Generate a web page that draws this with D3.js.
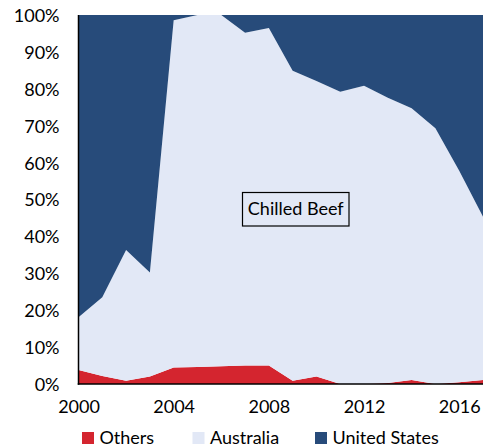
<!DOCTYPE html>
<html>
<head>
<meta charset="utf-8">
<script src="https://cdn.jsdelivr.net/npm/d3@7"></script>
<style>
  html, body { margin: 0; padding: 0; background: #fff; }
  svg text { font-family: Lato, "Open Sans", sans-serif; fill: #000; }
</style>
</head>
<body>
<svg id="chart" width="487" height="448"></svg>
<script>
// Import shares of chilled beef by origin (percent of total)
const years = [2000, 2001, 2002, 2003, 2004, 2005, 2006, 2007, 2008,
               2009, 2010, 2011, 2012, 2013, 2014, 2015, 2016, 2017];
const others       = [3.8, 2.2, 0.9, 2.0, 4.5, 4.6, 4.8, 5.0, 5.0,
                      0.9, 2.0, 0.0, 0.0, 0.3, 1.1, 0.0, 0.5, 1.1];
const australia    = [14.3, 21.3, 35.4, 28.2, 94.1, 95.4, 95.2, 90.2, 91.5,
                      84.0, 80.1, 79.2, 80.8, 77.3, 73.6, 69.3, 57.3, 44.2];
const unitedStates = [81.9, 76.5, 63.7, 69.8, 1.4, 0.0, 0.0, 4.8, 3.5,
                      15.1, 17.9, 20.8, 19.2, 22.4, 25.3, 30.7, 42.2, 54.7];

const seriesNames  = ["Others", "Australia", "United States"];
const seriesColors = ["#d4252f", "#e2e8f6", "#274b7a"];
const xTicks = [2000, 2004, 2008, 2012, 2016];
const yTicks = [0, 10, 20, 30, 40, 50, 60, 70, 80, 90, 100];
const panelTitle = "Chilled Beef";

const rows = years.map((y, i) => ({
  year: y,
  "Others": others[i],
  "Australia": australia[i],
  "United States": unitedStates[i]
}));

const margin = { left: 78.5, right: 4, top: 15, bottom: 64 };
const svg = d3.select("#chart");
const W = +svg.attr("width"), H = +svg.attr("height");
const fontSize = "18px";

const x = d3.scaleLinear()
  .domain([2000, 2017])
  .range([margin.left, W - margin.right]);
const y = d3.scaleLinear()
  .domain([0, 100])
  .range([H - margin.bottom, margin.top]);

const stack = d3.stack()
  .keys(seriesNames)
  .offset(d3.stackOffsetExpand);
const layers = stack(rows);

const area = d3.area()
  .x(d => x(d.data.year))
  .y0(d => y(d[0] * 100))
  .y1(d => y(d[1] * 100));

svg.append("g")
  .selectAll("path")
  .data(layers)
  .join("path")
  .attr("d", area)
  .attr("fill", (d, i) => seriesColors[i]);

// Y axis labels
const yAxis = d3.axisLeft(y)
  .tickValues(yTicks)
  .tickFormat(d => d + "%")
  .tickSize(0)
  .tickPadding(19);
const gy = svg.append("g")
  .attr("transform", `translate(${margin.left},0)`)
  .call(yAxis);
gy.select(".domain").remove();
gy.selectAll("text")
  .style("font-size", fontSize)
  .attr("dy", "0.36em");

// X axis labels
const xAxis = d3.axisBottom(x)
  .tickValues(xTicks)
  .tickFormat(d3.format("d"))
  .tickSize(0)
  .tickPadding(16);
const gx = svg.append("g")
  .attr("transform", `translate(0,${H - margin.bottom})`)
  .call(xAxis);
gx.select(".domain").remove();
gx.selectAll("text").style("font-size", fontSize);

// Axis lines
svg.append("line")
  .attr("x1", margin.left).attr("x2", margin.left)
  .attr("y1", margin.top).attr("y2", H - margin.bottom + 0.75)
  .attr("stroke", "#000").attr("stroke-width", 1.5);
svg.append("line")
  .attr("x1", margin.left - 0.75).attr("x2", W - margin.right)
  .attr("y1", H - margin.bottom).attr("y2", H - margin.bottom)
  .attr("stroke", "#000").attr("stroke-width", 1.5);

// Panel title box
const box = { x: 242.5, y: 192.5, w: 106.5, h: 33.5 };
const titleG = svg.append("g");
titleG.append("rect")
  .attr("x", box.x).attr("y", box.y)
  .attr("width", box.w).attr("height", box.h)
  .attr("fill", "none")
  .attr("stroke", "#000")
  .attr("stroke-width", 1.2);
titleG.append("text")
  .attr("x", box.x + box.w / 2)
  .attr("y", box.y + box.h / 2 + 1)
  .attr("text-anchor", "middle")
  .attr("dominant-baseline", "middle")
  .style("font-size", fontSize)
  .text(panelTitle);

// Legend
const legendX = [82, 192.5, 315];
const legend = svg.append("g");
seriesNames.forEach((name, i) => {
  legend.append("rect")
    .attr("x", legendX[i]).attr("y", 432)
    .attr("width", 12).attr("height", 12)
    .attr("fill", seriesColors[i]);
  legend.append("text")
    .attr("x", legendX[i] + 17.5).attr("y", 444)
    .style("font-size", fontSize)
    .text(name);
});
</script>
</body>
</html>
